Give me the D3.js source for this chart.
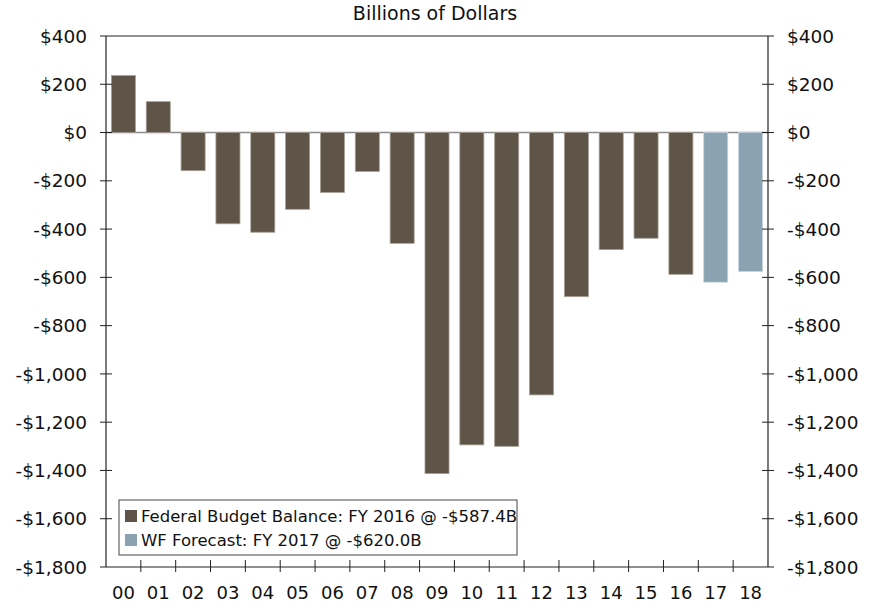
<!DOCTYPE html>
<html>
<head>
<meta charset="utf-8">
<script src="https://cdn.jsdelivr.net/npm/d3@7"></script>
<style>
  body { margin: 0; background: #fff; }
  svg { font-family: "DejaVu Sans", Verdana, sans-serif; }
</style>
</head>
<body>
<div id="chart"></div>
<script>
const years = ['00','01','02','03','04','05','06','07','08','09','10','11','12','13','14','15','16','17','18'];
const balance = [236, 128, -158, -378, -413, -318, -248, -161, -459, -1413, -1294, -1300, -1087, -680, -485, -438, -587.4, -620, -576];
const isForecast = [false,false,false,false,false,false,false,false,false,false,false,false,false,false,false,false,false,true,true];
const yTicks = [400, 200, 0, -200, -400, -600, -800, -1000, -1200, -1400, -1600, -1800];
const legendItems = [
    { label: 'Federal Budget Balance: FY 2016 @ -$587.4B', color: '#5e5447' },
    { label: 'WF Forecast: FY 2017 @ -$620.0B', color: '#8aa2b2' }
];

const W = 879, H = 605;
const margin = { top: 36, right: 111, bottom: 38, left: 106 };
const width = W - margin.left - margin.right;
const height = H - margin.top - margin.bottom;

const svg = d3.select('#chart').append('svg')
    .attr('width', W)
    .attr('height', H);

svg.append('text')
    .attr('x', 435)
    .attr('y', 20)
    .attr('text-anchor', 'middle')
    .style('font-size', '19px')
    .style('fill', '#111')
    .text('Billions of Dollars');

const g = svg.append('g').attr('transform', `translate(${margin.left},${margin.top})`);

const x = d3.scaleBand().domain(years).range([0, width]).paddingInner(0.31).paddingOuter(0.155);
const xb = d3.scaleBand().domain(years).range([0, width]);
const y = d3.scaleLinear().domain([-1800, 400]).range([height, 0]);

const fmt = v => (v < 0 ? '-$' : '$') + d3.format(',')(Math.abs(v));

// zero line
g.append('line')
    .attr('x1', 0).attr('x2', width)
    .attr('y1', y(0)).attr('y2', y(0))
    .style('stroke', '#8c8c8c').style('stroke-width', 1.5);

// bars
g.selectAll('.bar')
    .data(years)
    .enter().append('rect')
    .attr('class', 'bar')
    .attr('x', d => x(d))
    .attr('width', x.bandwidth())
    .attr('y', (d, i) => y(Math.max(0, balance[i])))
    .attr('height', (d, i) => Math.abs(y(balance[i]) - y(0)))
    .style('fill', (d, i) => isForecast[i] ? legendItems[1].color : legendItems[0].color)
    .style('stroke', (d, i) => isForecast[i] ? '#c9d6df' : '#a89f95')
    .style('stroke-width', 0.8);

// frame
g.append('line').attr('x1', 0).attr('x2', width).attr('y1', 0).attr('y2', 0)
    .style('stroke', '#222').style('stroke-width', 1.2);

// left axis with crossing ticks
const leftAxis = g.append('g');
leftAxis.append('line').attr('x1', 0).attr('x2', 0).attr('y1', 0).attr('y2', height)
    .style('stroke', '#222').style('stroke-width', 1.2);
leftAxis.selectAll('.tk').data(yTicks).enter().append('line')
    .attr('x1', -6).attr('x2', d => (d === 400 || d === -1800) ? 0 : 6)
    .attr('y1', d => y(d)).attr('y2', d => y(d))
    .style('stroke', '#222').style('stroke-width', 1);
leftAxis.selectAll('.lb').data(yTicks).enter().append('text')
    .attr('x', -19).attr('y', d => y(d)).attr('dy', '0.36em')
    .attr('text-anchor', 'end')
    .style('font-size', '18.5px').style('fill', '#111')
    .text(fmt);

// right axis
const rightAxis = g.append('g').attr('transform', `translate(${width},0)`);
rightAxis.append('line').attr('x1', 0).attr('x2', 0).attr('y1', 0).attr('y2', height)
    .style('stroke', '#222').style('stroke-width', 1.2);
rightAxis.selectAll('.tk').data(yTicks).enter().append('line')
    .attr('x1', d => (d === 400 || d === -1800) ? 0 : -6).attr('x2', 6)
    .attr('y1', d => y(d)).attr('y2', d => y(d))
    .style('stroke', '#222').style('stroke-width', 1);
rightAxis.selectAll('.lb').data(yTicks).enter().append('text')
    .attr('x', 19).attr('y', d => y(d)).attr('dy', '0.36em')
    .attr('text-anchor', 'start')
    .style('font-size', '18.5px').style('fill', '#111')
    .text(fmt);

// bottom axis
const bottomAxis = g.append('g').attr('transform', `translate(0,${height})`);
bottomAxis.append('line').attr('x1', 0).attr('x2', width)
    .style('stroke', '#222').style('stroke-width', 1.2);
bottomAxis.selectAll('.tk').data(years.slice(1)).enter().append('line')
    .attr('x1', d => xb(d)).attr('x2', d => xb(d))
    .attr('y1', 5).attr('y2', -7)
    .style('stroke', '#222').style('stroke-width', 1);
bottomAxis.selectAll('.lb').data(years).enter().append('text')
    .attr('x', d => xb(d) + xb.bandwidth() / 2)
    .attr('y', 32)
    .attr('text-anchor', 'middle')
    .style('font-size', '18px').style('fill', '#111')
    .text(d => d);

// legend
const legend = svg.append('g').attr('transform', 'translate(119,500)');
legend.append('rect')
    .attr('width', 398).attr('height', 55)
    .style('fill', '#fff').style('stroke', '#444').style('stroke-width', 1);
legendItems.forEach((item, i) => {
    const row = legend.append('g').attr('transform', `translate(6,${16 + i * 24})`);
    row.append('rect').attr('x', 0).attr('y', -6).attr('width', 12).attr('height', 12)
        .style('fill', item.color);
    row.append('text').attr('x', 16).attr('dy', '0.36em')
        .style('font-size', '16.5px').style('fill', '#111')
        .text(item.label);
});
</script>
</body>
</html>
